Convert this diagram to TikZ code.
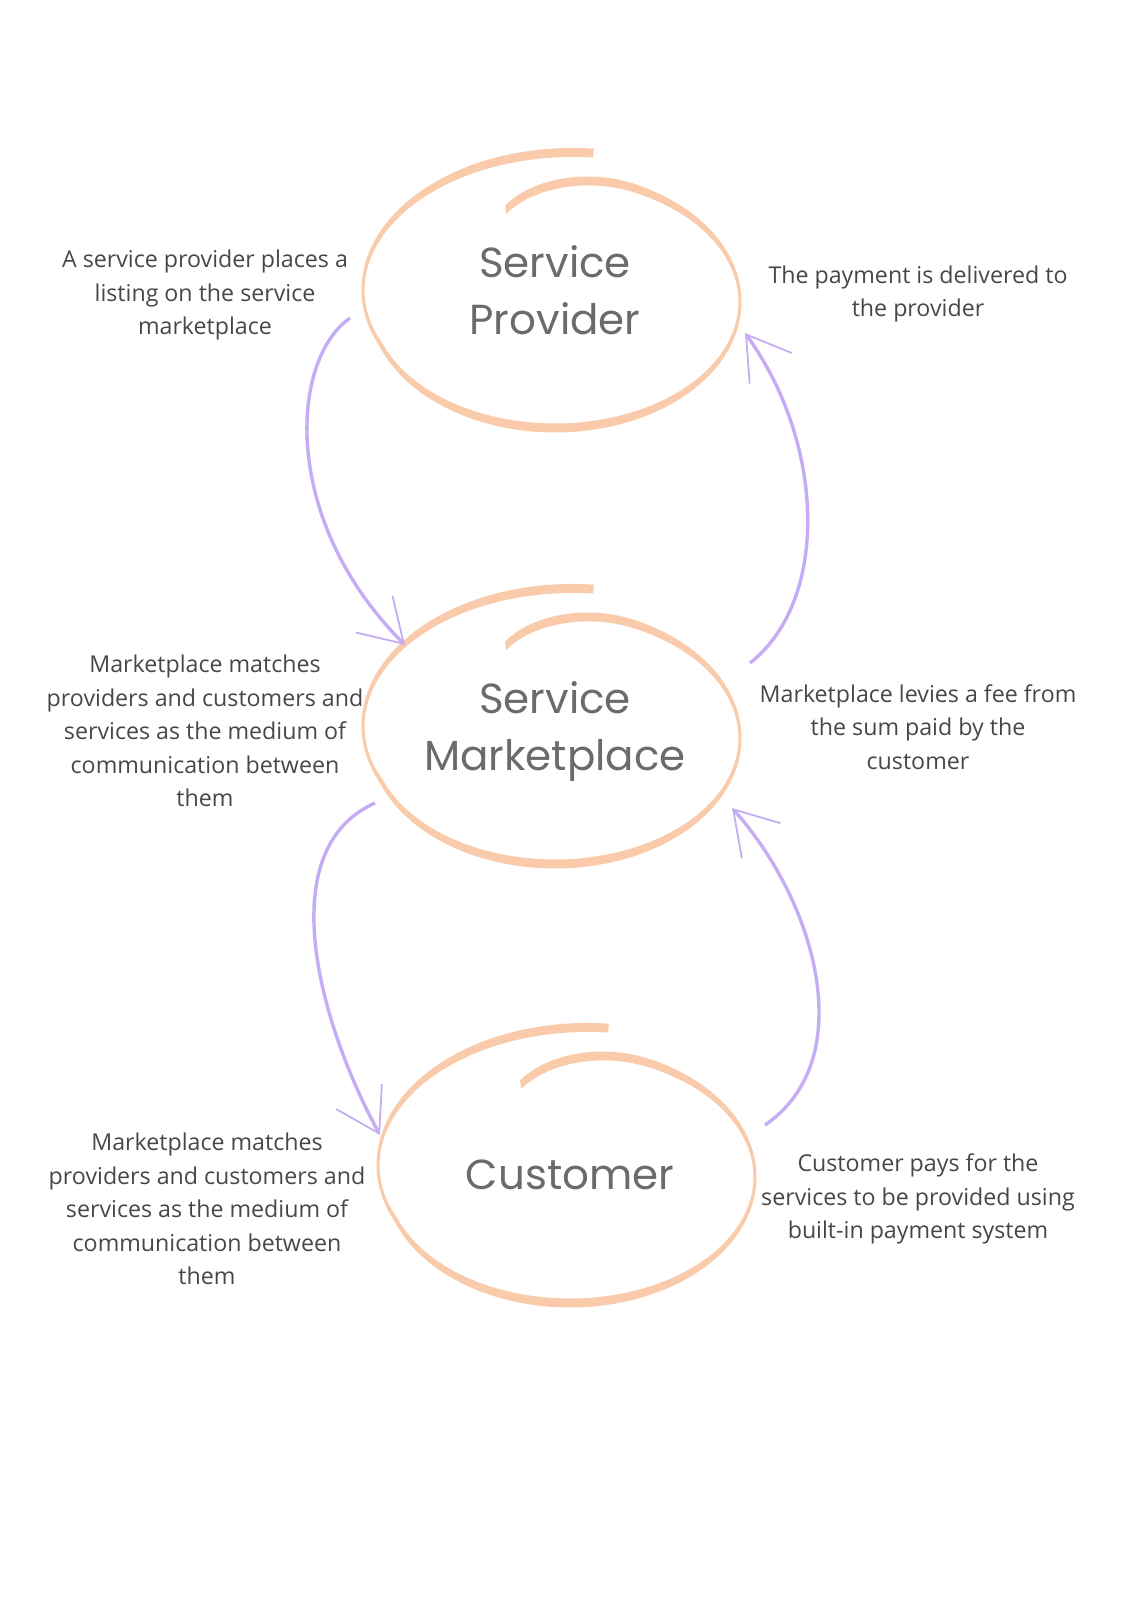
\documentclass[tikz,border=0pt]{standalone}
\usepackage{fontspec}
\setmainfont{Open Sans}
\newfontfamily\titlefont{Poppins}
\usetikzlibrary{arrows.meta,positioning,calc}
\definecolor{peach}{HTML}{F9CBAA}
\definecolor{lilac}{HTML}{C4ADF3}
\definecolor{titlegray}{HTML}{6B6B6B}

% open hand-drawn loop round a title, #1 = node, #2 = offset of its centre
\newcommand{\swirl}[2]{%
  \fill[swirl, shift={($(#1)+(#2)$)}]
    plot[domain=-80:-470, samples=160, variable=\t]
      ({(185*sc(\t)+1.5)*cos(\t)}, {(126*sc(\t)+4.5)*sin(\t)})
    -- plot[domain=-470:-80, samples=160, variable=\t]
      ({(185*sc(\t)-1.5)*cos(\t)}, {(126*sc(\t)-4.5)*sin(\t)})
    -- cycle;}

\begin{document}
\begin{tikzpicture}[x=0.5pt, y=-0.5pt, on grid,
    declare function={sc(\t)=1+0.2*max(0,(\t+200)/120)-0.22*(max(0,(-425-\t)/45))^2;},
    title/.style={font=\titlefont\fontsize{21}{28.5}\selectfont, text=titlegray, align=center},
    note/.style={font=\fontsize{11.6}{16.75}\selectfont, text=black!72, align=center},
    swirl/.style={fill=peach},
    flow/.style={draw=lilac, line width=1.7pt, -{Straight Barb[length=21pt,width=26pt,line width=0.9pt]}}]
  \useasboundingbox (0,0) rectangle (1131,1600);

  \node[title] (sp) at (555,290) {Service\\Provider};
  \node[title, below=220.5pt of sp] (sm) {Service\\Marketplace};
  \node[title, below=222pt of sm, xshift=7.5pt] (cu) {Customer};

  \swirl{sp}{0,12}
  \swirl{sm}{0,7}
  \swirl{cu}{0,2}

  \node[note, left=175pt of sp, yshift=-2.5pt] (sp-l) {A service provider places a\\listing on the service\\marketplace};
  \node[note, right=181.5pt of sp, yshift=-2pt] (sp-r) {The payment is delivered to\\the provider};
  \node[note, left=175pt of sm] (sm-l) {Marketplace matches\\providers and customers and\\services as the medium of\\communication between\\them};
  \node[note, right=181.5pt of sm, yshift=2pt] (sm-r) {Marketplace levies a fee from\\the sum paid by the\\customer};
  \node[note, left=181.5pt of cu, yshift=-17pt] (cu-l) {Marketplace matches\\providers and customers and\\services as the medium of\\communication between\\them};
  \node[note, right=174pt of cu, yshift=-12pt] (cu-r) {Customer pays for the\\services to be provided using\\built-in payment system};

  \draw[flow] ($(sp)+(-205,28)$) .. controls +(-60,42) and +(-125,-125) .. ($(sm)+(-150,-86)$);
  \draw[flow] ($(sm)+(195,-68)$) .. controls +(80,-63) and +(80,110) .. ($(sp)+(190,43)$);
  \draw[flow] ($(sm)+(-180,72)$) .. controls +(-105,47) and +(-60,-110) .. ($(cu)+(-190,-40)$);
  \draw[flow] ($(cu)+(195,-50)$) .. controls +(95,-65) and +(85,95) .. ($(sm)+(177,77)$);
\end{tikzpicture}
\end{document}
